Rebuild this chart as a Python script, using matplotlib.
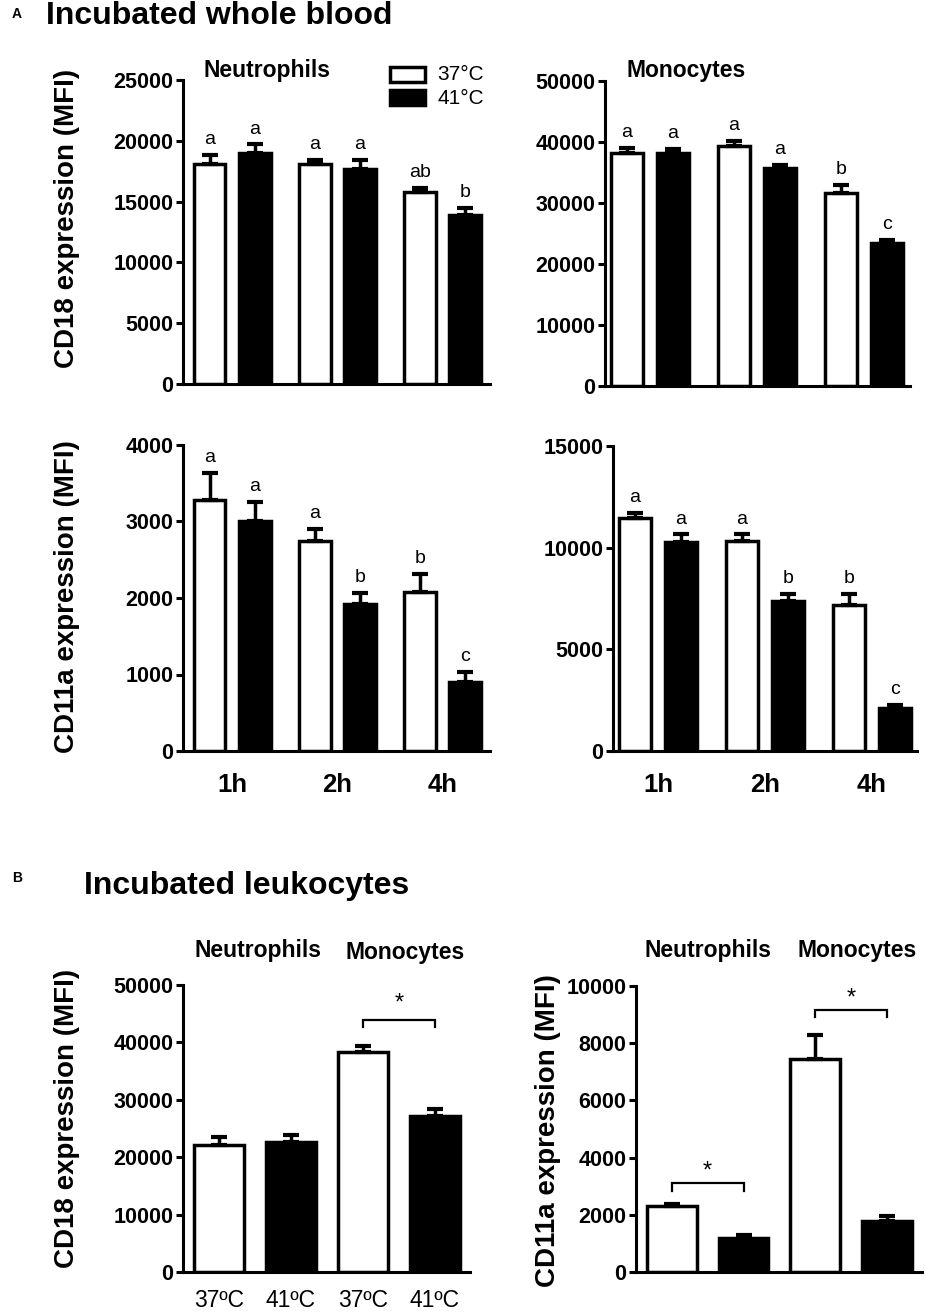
import matplotlib
matplotlib.use("Agg")
import matplotlib.pyplot as plt
import numpy as np

plt.rcParams['font.family'] = ['Liberation Sans', 'DejaVu Sans']

W, H = 926, 1312

# panel A: incubated whole blood, pairs are (37C, 41C) at 1h, 2h, 4h
times = ['1h', '2h', '4h']
cd18_neu = [18100, 19000, 18100, 17700, 15800, 13900]
cd18_neu_err = [700, 700, 300, 700, 300, 600]
cd18_neu_let = ['a', 'a', 'a', 'a', 'ab', 'b']
cd18_mono = [38200, 38200, 39300, 35800, 31700, 23500]
cd18_mono_err = [800, 600, 900, 500, 1300, 500]
cd18_mono_let = ['a', 'a', 'a', 'a', 'b', 'c']
cd11a_neu = [3280, 3000, 2750, 1920, 2080, 900]
cd11a_neu_err = [350, 260, 150, 150, 230, 130]
cd11a_neu_let = ['a', 'a', 'a', 'b', 'b', 'c']
cd11a_mono = [11450, 10300, 10350, 7400, 7200, 2100]
cd11a_mono_err = [250, 350, 300, 300, 500, 150]
cd11a_mono_let = ['a', 'a', 'a', 'b', 'b', 'c']

# panel B: incubated leukocytes, neutrophils 37/41 then monocytes 37/41
temps_b = ['37ºC', '41ºC', '37ºC', '41ºC']
b_cd18 = [22100, 22700, 38400, 27200]
b_cd18_err = [1500, 1200, 1000, 1200]
b_cd11a = [2300, 1200, 7450, 1800]
b_cd11a_err = [80, 100, 850, 150]

fig = plt.figure(figsize=(W / 100, H / 100), dpi=100)


def px_axes(l, t, r, b):
    return fig.add_axes([l / W, 1 - b / H, (r - l) / W, (b - t) / H])


def style(ax, ymax, step):
    for s in ['top', 'right']:
        ax.spines[s].set_visible(False)
    for s in ['left', 'bottom']:
        ax.spines[s].set_linewidth(2.2)
    ax.set_ylim(0, ymax)
    ax.set_yticks(np.arange(0, ymax + 1, step))
    ax.tick_params(axis='y', length=5, width=2.2, pad=2, labelsize=15.5)
    ax.tick_params(axis='x', length=0)
    for lab in ax.get_yticklabels():
        lab.set_fontweight('bold')


def bars(ax, x, vals, errs, width):
    cols = ['white', 'black'] * (len(vals) // 2)
    ax.bar(x, vals, width=width, color=cols, edgecolor='black', linewidth=2.5, zorder=2)
    ax.errorbar(x, vals, yerr=[np.zeros(len(errs)), errs], fmt='none', ecolor='black',
                elinewidth=2.5, capsize=6, capthick=3, zorder=3)


def panel_a(rect, vals, errs, lets, ymax, step, xl, xr, xlabels):
    ax = px_axes(*rect)
    x = np.array([g + d for g in range(3) for d in (-0.215, 0.215)])
    bars(ax, x, vals, errs, 0.3)
    for xi, v, e, s in zip(x, vals, errs, lets):
        ax.annotate(s, (xi, v + e), xytext=(0, 5), textcoords='offset points',
                    ha='center', va='bottom', fontsize=14)
    style(ax, ymax, step)
    ax.set_xlim(xl, xr)
    ax.set_xticks(range(3))
    if xlabels:
        ax.set_xticklabels(times, fontsize=18.5, fontweight='bold')
        ax.tick_params(axis='x', pad=16)
    else:
        ax.set_xticklabels([])
    return ax


def panel_b(rect, vals, errs, ymax, step):
    ax = px_axes(*rect)
    x = np.arange(4)
    bars(ax, x, vals, errs, 0.69)
    style(ax, ymax, step)
    ax.set_xlim(-0.5, 3.49)
    ax.set_xticks(x)
    return ax


def bracket(ax, x0, x1, y, tip, star_y):
    ax.plot([x0, x0, x1, x1], [y - tip, y, y, y - tip], color='black', lw=1.6,
            solid_joinstyle='miter', clip_on=False)
    ax.text((x0 + x1) / 2, star_y, '*', ha='center', va='center', fontsize=17)


a1 = panel_a((183, 80, 490, 384), cd18_neu, cd18_neu_err, cd18_neu_let, 25000, 5000,
             -0.467, 2.45, False)
a2 = panel_a((605, 81, 910, 386), cd18_mono, cd18_mono_err, cd18_mono_let, 50000, 10000,
             -0.42, 2.43, False)
a3 = panel_a((183, 445, 490, 751), cd11a_neu, cd11a_neu_err, cd11a_neu_let, 4000, 1000,
             -0.467, 2.45, True)
a4 = panel_a((613, 446, 917, 751), cd11a_mono, cd11a_mono_err, cd11a_mono_let, 15000, 5000,
             -0.42, 2.42, True)

b1 = panel_b((183, 985, 470, 1272), b_cd18, b_cd18_err, 50000, 10000)
b1.set_xticklabels(temps_b, fontsize=16.5)
b1.tick_params(axis='x', pad=12)
bracket(b1, 2, 3, 43900, 1200, 46800)

b2 = panel_b((636, 986, 922, 1272), b_cd11a, b_cd11a_err, 10000, 2000)
b2.set_xticklabels([])
bracket(b2, 0, 1, 3110, 280, 3500)
bracket(b2, 2, 3, 9160, 250, 9560)

# legend
for yt, fc in [(67, 'white'), (90, 'black')]:
    fig.patches.append(plt.Rectangle((390 / W, 1 - (yt + 15) / H), 35 / W, 15 / H,
                                     transform=fig.transFigure, facecolor=fc,
                                     edgecolor='black', linewidth=2.5))
fig.text(437 / W, 1 - 75 / H, '37°C', fontsize=15, va='center')
fig.text(437 / W, 1 - 98 / H, '41°C', fontsize=15, va='center')

# titles and labels
fig.text(12 / W, 1 - 18 / H, 'A', fontsize=10, fontweight='bold', va='baseline')
fig.text(46 / W, 1 - 24 / H, 'Incubated whole blood', fontsize=23, fontweight='bold', va='baseline')
fig.text(12 / W, 1 - 882 / H, 'B', fontsize=10, fontweight='bold', va='baseline')
fig.text(84 / W, 1 - 894 / H, 'Incubated leukocytes', fontsize=23, fontweight='bold', va='baseline')

sub = dict(fontsize=16.5, fontweight='bold', ha='center', va='center')
fig.text(267 / W, 1 - 70 / H, 'Neutrophils', **sub)
fig.text(686 / W, 1 - 70 / H, 'Monocytes', **sub)
fig.text(258 / W, 1 - 950 / H, 'Neutrophils', **sub)
fig.text(405 / W, 1 - 953 / H, 'Monocytes', **sub)
fig.text(708 / W, 1 - 950 / H, 'Neutrophils', **sub)
fig.text(857 / W, 1 - 950 / H, 'Monocytes', **sub)

ylab = dict(fontsize=20, fontweight='bold', rotation=90, ha='center', va='center')
fig.text(67 / W, 1 - 218 / H, 'CD18 expression (MFI)', **ylab)
fig.text(67 / W, 1 - 597 / H, 'CD11a expression (MFI)', **ylab)
fig.text(67 / W, 1 - 1118 / H, 'CD18 expression (MFI)', **ylab)
fig.text(548 / W, 1 - 1131 / H, 'CD11a expression (MFI)', **ylab)

fig.savefig('out.png', dpi=100)
